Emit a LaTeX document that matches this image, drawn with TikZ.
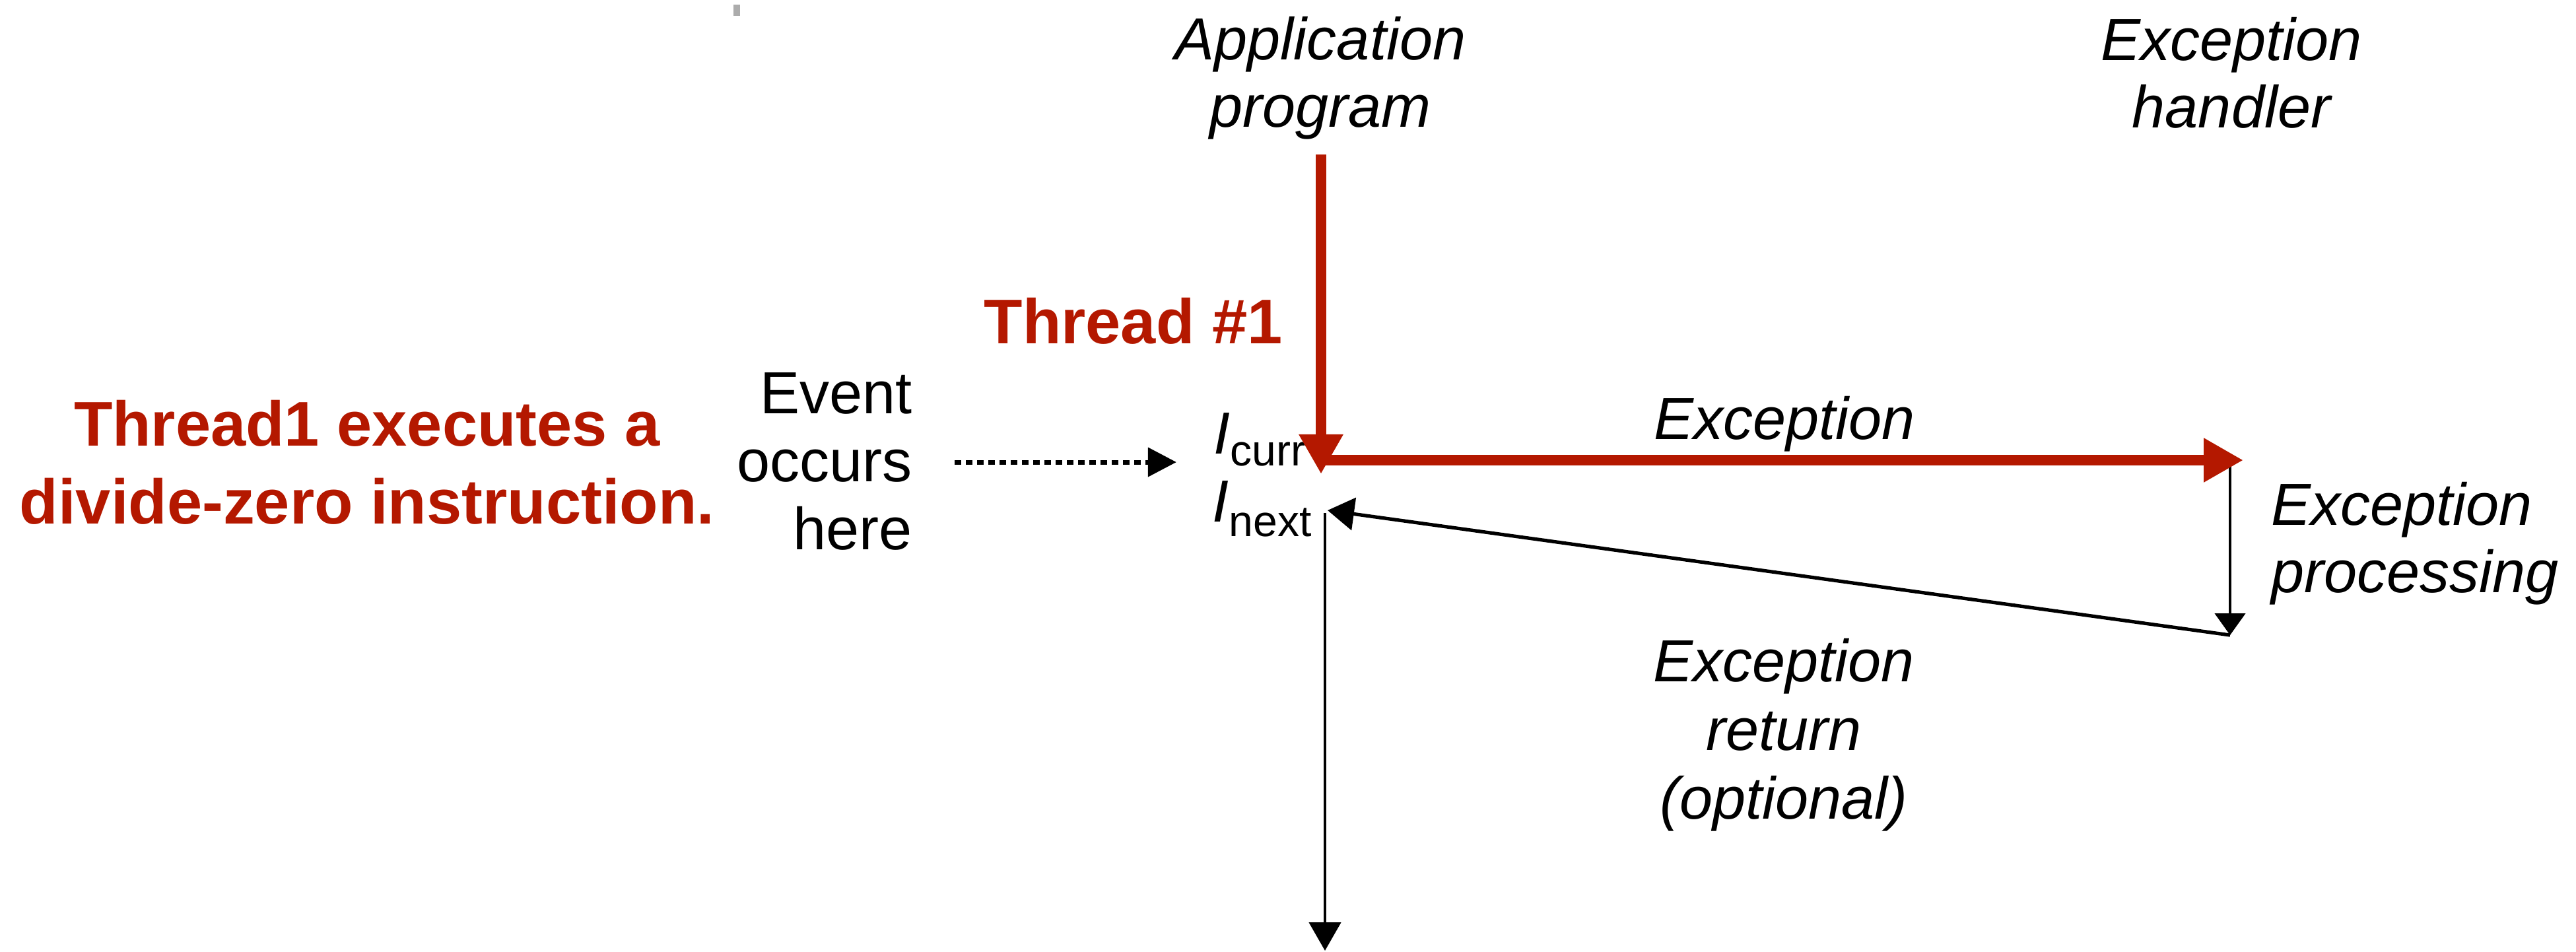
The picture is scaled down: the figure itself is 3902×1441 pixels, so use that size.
\documentclass[tikz,border=0pt]{standalone}
\usepackage{fontspec}
\setmainfont{Liberation Sans}
\usetikzlibrary{arrows.meta}
\definecolor{thrred}{RGB}{180,24,0}
% lowered subscript in a smaller size
\newcommand\lowsub[2]{\raisebox{-#1}{\fontsize{18.8pt}{20pt}\selectfont #2}}
\begin{document}
\begin{tikzpicture}[x=0.01cm,y=-0.01cm,
  lbl/.style={font=\fontsize{25.6pt}{29pt}\selectfont\itshape, inner sep=0pt, align=center},
  plain/.style={font=\fontsize{25.6pt}{29pt}\selectfont, inner sep=0pt},
  note/.style={font=\fontsize{27.2pt}{33.3pt}\selectfont\bfseries, text=thrred, inner sep=0pt, align=center},
  flow/.style={line width=4.5pt, draw=thrred, -{Triangle[length=6mm,width=6.3mm]}},
  thinarrow/.style={line width=1.3pt, draw=black},
]
\useasboundingbox (0,0) rectangle (3902,1441);
\fill[gray!65] (1111,7) rectangle (1121,24);

% column titles (multi-line nodes sit on the baseline of their last line)
\node[lbl, anchor=base] (app) at (2000,192) {Application\\program};
\node[lbl, anchor=base] (handler) at (3380,193) {Exception\\handler};

% annotations
\node[note, anchor=base west, align=left] (thread) at (1490,520) {Thread \#1};
\node[note, anchor=base] (divzero) at (556,793) {Thread1 executes a\\divide-zero instruction.};

% event and instructions
\node[plain, anchor=base east, align=right, font=\fontsize{25.6pt}{29.2pt}\selectfont] (event) at (1382,832) {Event\\occurs\\here};
\node[plain, anchor=base west] (icurr) at (1838,687) {\textit{I}\lowsub{0.18cm}{curr}};
\node[plain, anchor=base west] (inext) at (1836,790) {\textit{I}\lowsub{0.22cm}{next}};

% edge labels
\node[lbl, anchor=base] (exc) at (2703,665) {Exception};
\node[lbl, anchor=base west, align=left] (proc) at (3440,897) {Exception\\processing};
\node[lbl, anchor=base, font=\fontsize{25.6pt}{29.5pt}\selectfont\itshape] (ret) at (2702,1240) {Exception\\return\\(optional)};

% end points of the flow
\coordinate (apptop) at (2001,234);
\coordinate (curtip) at (2001,718);
\coordinate (excstart) at (2001,697);
\coordinate (exctip) at (3398,697);
\coordinate (evstart) at (1446,700);
\coordinate (evtip) at (1782,700);
\coordinate (hdtop) at (3378,704);
\coordinate (hdbot) at (3378,962);
\coordinate (nexttip) at (2011,773);
\coordinate (downtop) at (2007,777);
\coordinate (downtip) at (2007,1440);

% connectors
\draw[thinarrow, -{Triangle[length=3.3mm,width=4.6mm]}] (hdtop) -- (hdbot);
\draw[line width=1.5pt, -{Triangle[length=4mm,width=4.9mm]}] (hdbot) -- (nexttip);
\draw[thinarrow, -{Triangle[length=4.3mm,width=4.8mm]}] (downtop) -- (downtip);
\draw[line width=2pt, dash pattern=on 0.1cm off 0.07cm, -{Triangle[length=4.3mm,width=4.3mm]}] (evstart) -- (evtip);
\draw[flow] (apptop) -- (curtip);
\draw[flow] (excstart) -- (exctip);
\end{tikzpicture}
\end{document}
